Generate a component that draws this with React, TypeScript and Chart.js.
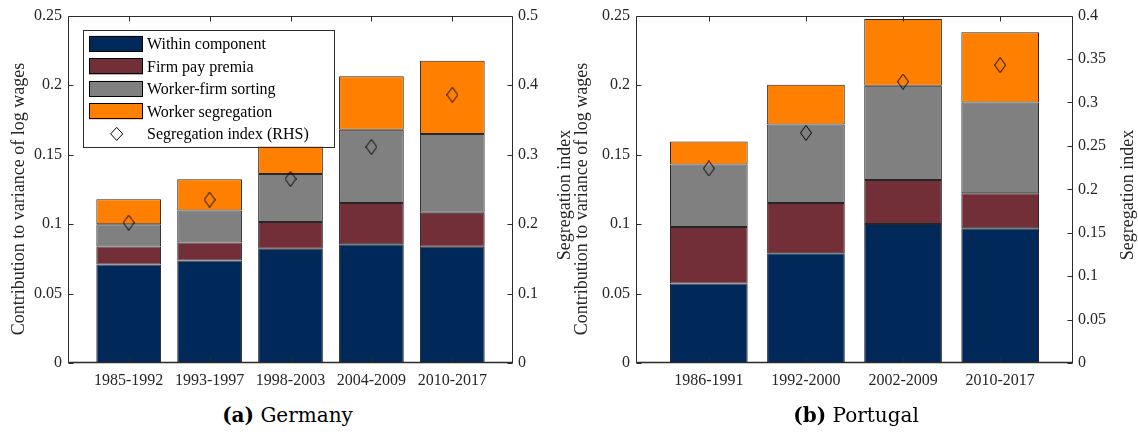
import React, { useEffect, useRef } from "react";
import { Chart, registerables } from "chart.js";

Chart.register(...registerables);

// ---------- data ----------
const seriesLabels = ["Within component", "Firm pay premia", "Worker-firm sorting", "Worker segregation"];
const indexLabel = "Segregation index (RHS)";
const leftTitle = "Contribution to variance of log wages";
const rightTitle = "Segregation index";

const deCategories = ["1985-1992", "1993-1997", "1998-2003", "2004-2009", "2010-2017"];
const deWithin = [0.0708, 0.0737, 0.0822, 0.0855, 0.0836];
const deFirm = [0.0131, 0.0131, 0.0193, 0.0296, 0.0246];
const deSorting = [0.0159, 0.0229, 0.0345, 0.0528, 0.0566];
const deSegregation = [0.0181, 0.0226, 0.0266, 0.0384, 0.0527];
const deIndex = [0.202, 0.235, 0.265, 0.311, 0.386];

const ptCategories = ["1986-1991", "1992-2000", "2002-2009", "2010-2017"];
const ptWithin = [0.0572, 0.0789, 0.1001, 0.0970];
const ptFirm = [0.0407, 0.0362, 0.0316, 0.0252];
const ptSorting = [0.0450, 0.0566, 0.0679, 0.0653];
const ptSegregation = [0.0165, 0.0286, 0.0479, 0.0505];
const ptIndex = [0.224, 0.265, 0.324, 0.343];

const leftMax = 0.25;
const leftStep = 0.05;
const deRightMax = 0.5;
const deRightStep = 0.1;
const ptRightMax = 0.4;
const ptRightStep = 0.05;

// ---------- styles ----------
const barColors = ["rgb(0,41,90)", "rgb(114,47,55)", "rgb(128,128,128)", "rgb(255,128,0)"];
const axisColor = "#2b2b2b";
const textColor = "#262626";
const serif = "'Liberation Serif', 'Times New Roman', serif";

function makeDiamond(w: number, h: number) {
  const c = document.createElement("canvas");
  c.width = w;
  c.height = h;
  const g = c.getContext("2d")!;
  g.strokeStyle = "#000";
  g.lineWidth = 1;
  g.beginPath();
  g.moveTo(w / 2, 0.5);
  g.lineTo(w - 0.5, h / 2);
  g.lineTo(w / 2, h - 0.5);
  g.lineTo(0.5, h / 2);
  g.closePath();
  g.stroke();
  return c;
}

const fmt = (v: number) => String(parseFloat(Number(v).toFixed(3)));

const framePlugin = {
  id: "frame",
  afterDraw(chart: any, _a: any, opts: any) {
    const { ctx, chartArea } = chart;
    const { left, right, top, bottom } = chartArea;
    const xs = chart.scales.x;
    const ys = chart.scales.y;
    const y2 = chart.scales.y2;
    const tl = 5;
    ctx.save();
    ctx.strokeStyle = axisColor;
    ctx.lineWidth = 1;
    const line = (x1: number, y1: number, x2: number, y2_: number) => {
      ctx.beginPath();
      ctx.moveTo(x1, y1);
      ctx.lineTo(x2, y2_);
      ctx.stroke();
    };
    const L = Math.round(left) + 0.5;
    const R = Math.round(right) - 0.5;
    const T = Math.round(top) + 0.5;
    const B = Math.round(bottom) - 0.5;
    line(L, T, R, T);
    line(L, T, L, B);
    line(R, T, R, B);
    ctx.lineWidth = 1.6;
    line(L - 0.5, B, R + 0.5, B);
    ctx.lineWidth = 1;
    xs.ticks.forEach((t: any) => {
      const px = Math.round(xs.getPixelForValue(t.value)) + 0.5;
      line(px, B, px, B - tl);
      line(px, T, px, T + tl);
    });
    ys.ticks.forEach((t: any) => {
      const py = Math.round(ys.getPixelForValue(t.value)) + 0.5;
      line(L, py, L + tl, py);
    });
    y2.ticks.forEach((t: any) => {
      const py = Math.round(y2.getPixelForValue(t.value)) + 0.5;
      line(R, py, R - tl, py);
    });

    // axis titles (both read bottom-to-top)
    ctx.fillStyle = textColor;
    ctx.font = `18px ${serif}`;
    ctx.textAlign = "center";
    ctx.textBaseline = "middle";
    const drawV = (x: number, y: number, s: string) => {
      ctx.save();
      ctx.translate(x, y);
      ctx.rotate(-Math.PI / 2);
      ctx.fillText(s, 0, 0);
      ctx.restore();
    };
    drawV(ys.left + 12, opts.leftTitleY, leftTitle);
    drawV(y2.right - 10, opts.rightTitleY, rightTitle);

    // legend
    if (opts.legend) {
      const bx = left + 15;
      const by = top + 14;
      const bw = 251;
      const bh = 117;
      ctx.fillStyle = "#fff";
      ctx.fillRect(bx, by, bw, bh);
      ctx.strokeStyle = axisColor;
      ctx.strokeRect(Math.round(bx) + 0.5, Math.round(by) + 0.5, bw, bh);
      ctx.font = `16px ${serif}`;
      ctx.textAlign = "left";
      ctx.textBaseline = "middle";
      const items = chart.data.datasets;
      items.forEach((ds: any, i: number) => {
        const cy = by + 14.3 + i * 22.5;
        if (ds.type === "line") {
          const w = 12, h = 13;
          const cx = bx + 33.7;
          ctx.strokeStyle = "#000";
          ctx.beginPath();
          ctx.moveTo(cx, cy - h / 2);
          ctx.lineTo(cx + w / 2, cy);
          ctx.lineTo(cx, cy + h / 2);
          ctx.lineTo(cx - w / 2, cy);
          ctx.closePath();
          ctx.stroke();
        } else {
          ctx.fillStyle = ds.backgroundColor;
          ctx.fillRect(bx + 6, cy - 8, 54, 16);
          ctx.strokeStyle = "#000";
          ctx.strokeRect(Math.round(bx + 6) + 0.5, Math.round(cy - 8) + 0.5, 53, 15);
        }
        ctx.fillStyle = "#000";
        ctx.fillText(ds.label, bx + 64, cy + 1);
      });
    }
    ctx.restore();
  },
};

function buildChart(
  canvas: HTMLCanvasElement,
  cats: string[],
  within: number[],
  firm: number[],
  sorting: number[],
  seg: number[],
  index: number[],
  rightMax: number,
  rightStep: number,
  dims: { padLeft: number; leftW: number; rightW: number; legend: boolean }
) {
  const diamond = makeDiamond(12, 16);
  const pts = (arr: number[]) => arr.map((v, i) => ({ x: i + 1, y: v }));
  const series = [within, firm, sorting, seg];
  const tickFont = { family: serif, size: 16 };
  return new Chart(canvas, {
    type: "bar",
    data: {
      datasets: [
        ...series.map((arr, k) => ({
          type: "bar" as const,
          label: seriesLabels[k],
          data: pts(arr),
          backgroundColor: barColors[k],
          borderColor: "rgba(0,0,0,0.85)",
          borderWidth: 1,
          borderSkipped: false as any,
          yAxisID: "y",
          order: 1,
          categoryPercentage: 1,
          barPercentage: 0.8,
        })),
        {
          type: "line" as const,
          label: indexLabel,
          data: pts(index),
          showLine: false,
          pointStyle: diamond as any,
          pointRadius: 8,
          yAxisID: "y2",
          order: 0,
        },
      ] as any,
    },
    options: {
      responsive: false,
      animation: false,
      events: [],
      layout: { padding: { top: 12, left: dims.padLeft, right: 0, bottom: 0 } },
      plugins: {
        legend: { display: false },
        tooltip: { enabled: false },
        frame: { legend: dims.legend, leftTitleY: 199, rightTitleY: 195 },
      } as any,
      scales: {
        x: {
          type: "linear",
          offset: false,
          min: 0.25,
          max: cats.length + 0.75,
          stacked: true,
          grid: { display: false, drawTicks: false, offset: false },
          border: { display: false },
          ticks: {
            autoSkip: false,
            maxRotation: 0,
            padding: 8,
            color: textColor,
            font: tickFont,
            callback: (v: any) => cats[Math.round(Number(v)) - 1] ?? "",
          },
          afterBuildTicks: (s: any) => {
            s.ticks = cats.map((_, i) => ({ value: i + 1 }));
          },
          afterFit: (s: any) => {
            s.height = 37;
          },
        },
        y: {
          position: "left",
          min: 0,
          max: leftMax,
          stacked: true,
          grid: { display: false, drawTicks: false },
          border: { display: false },
          ticks: { stepSize: leftStep, padding: 6, color: textColor, font: tickFont, callback: (v: any) => fmt(v) },
          afterFit: (s: any) => {
            s.width = dims.leftW;
          },
        },
        y2: {
          position: "right",
          min: 0,
          max: rightMax,
          grid: { display: false, drawTicks: false },
          border: { display: false },
          ticks: { stepSize: rightStep, padding: 5, color: textColor, font: tickFont, callback: (v: any) => fmt(v) },
          afterFit: (s: any) => {
            s.width = dims.rightW;
          },
        },
      } as any,
    },
    plugins: [framePlugin],
  } as any);
}

export default function App() {
  const deRef = useRef<HTMLCanvasElement>(null);
  const ptRef = useRef<HTMLCanvasElement>(null);

  useEffect(() => {
    const c1 = buildChart(deRef.current!, deCategories, deWithin, deFirm, deSorting, deSegregation, deIndex, deRightMax, deRightStep, {
      padLeft: 7,
      leftW: 61,
      rightW: 62,
      legend: true,
    });
    const c2 = buildChart(ptRef.current!, ptCategories, ptWithin, ptFirm, ptSorting, ptSegregation, ptIndex, ptRightMax, ptRightStep, {
      padLeft: 0,
      leftW: 66,
      rightW: 65,
      legend: false,
    });
    return () => {
      c1.destroy();
      c2.destroy();
    };
  }, []);

  const captionStyle: React.CSSProperties = {
    position: "absolute",
    top: 405,
    width: 400,
    textAlign: "center",
    fontFamily: "'DejaVu Serif', serif",
    fontSize: 20,
    lineHeight: "20px",
    color: "#000",
  };

  return (
    <div style={{ position: "absolute", left: 0, top: 0, width: 1138, height: 434, background: "#fff", overflow: "hidden" }}>
      <canvas ref={deRef} width={575} height={400} style={{ position: "absolute", left: 0, top: 0, width: 575, height: 400 }} />
      <canvas ref={ptRef} width={568} height={400} style={{ position: "absolute", left: 570, top: 0, width: 568, height: 400 }} />
      <div style={{ ...captionStyle, left: 287.5 - 200 }}>
        <b>(a)</b> Germany
      </div>
      <div style={{ ...captionStyle, left: 856 - 200 }}>
        <b>(b)</b> Portugal
      </div>
    </div>
  );
}
